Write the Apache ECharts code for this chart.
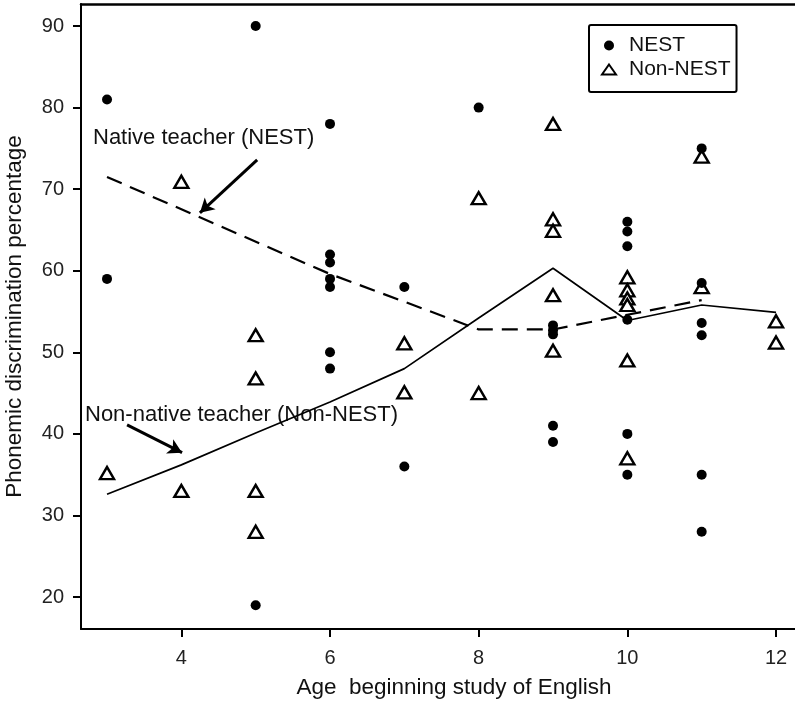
<!DOCTYPE html>
<html>
<head>
<meta charset="utf-8">
<script src="https://cdn.jsdelivr.net/npm/echarts@6/dist/echarts.min.js"></script>
<style>
  html, body { margin: 0; padding: 0; background: #fff; }
  #main { width: 795px; height: 704px; }
</style>
</head>
<body>
<div id="main"></div>
<script>
// NEST (native teacher) points
const nestAge = [3, 3, 5, 5, 6, 6, 6, 6, 6, 6, 6, 7, 7, 8, 9, 9, 9, 9, 9, 10, 10, 10, 10, 10, 10, 11, 11, 11, 11, 11, 11];
const nestScore = [81, 59, 90, 19, 78, 62, 61, 59, 58, 50, 48, 58, 36, 80, 53.3, 52.7, 52.2, 41, 39, 66, 64.8, 63, 54, 40, 35, 75, 58.5, 53.6, 52.1, 35, 28];

// Non-NEST points
const nonAge = [3, 4, 4, 5, 5, 5, 5, 7, 7, 8, 8, 9, 9, 9, 9, 9, 10, 10, 10, 10, 10, 10, 11, 11, 12, 12];
const nonScore = [35.2, 70.9, 33, 52.1, 46.8, 33, 28, 51.1, 45.1, 68.9, 45, 78, 66.3, 64.9, 57, 50.2, 59.2, 57.6, 56.6, 55.8, 49, 37, 74, 58, 53.8, 51.2];

// trend lines
const nestLineAge = [3, 6, 7, 8, 9, 10, 11];
const nestLineMean = [71.5, 59.6, 56.2, 52.8, 52.8, 54.6, 56.4];
const nonLineAge = [3, 4, 5, 6, 7, 8, 9, 10, 11, 12];
const nonLineMean = [32.6, 36.2, 40.1, 43.9, 48, 54.2, 60.3, 53.9, 55.8, 54.9];

const xTicks = [4, 6, 8, 10, 12];
const yTicks = [20, 30, 40, 50, 60, 70, 80, 90];

// annotation arrows (data coords)
const arrowNest = [[5.02, 73.6], [4.25, 67.1]];
const arrowNon = [[3.27, 41.1], [4.01, 37.7]];

const pairs = (xs, ys) => xs.map((x, i) => [x, ys[i]]);

const myChart = echarts.init(document.getElementById('main'));
const font = "'Liberation Sans', Arial, sans-serif";

const option = {
  animation: false,
  backgroundColor: '#fff',
  textStyle: { fontFamily: font },
  grid: {
    left: 81, right: -10, top: 4, bottom: 75,
    outerBoundsMode: 'none',
    containLabel: false,
    show: false
  },
  xAxis: [
    {
      type: 'value',
      min: 2.65, max: 12.39,
      name: 'Age  beginning study of English',
      nameLocation: 'middle',
      nameGap: 47,
      nameTextStyle: { fontSize: 22.5, color: '#111', fontFamily: font, padding: [0, 0, 0, 22] },
      splitLine: { show: false },
      axisLine: { lineStyle: { color: '#000', width: 2 } },
      axisTick: { length: 8, lineStyle: { color: '#000', width: 2 }, customValues: xTicks },
      axisLabel: { fontSize: 20, color: '#222', margin: 19, customValues: xTicks, fontFamily: font }
    },
    {
      // top frame line only
      type: 'value',
      position: 'top',
      min: 2.65, max: 12.39,
      splitLine: { show: false },
      axisLine: { show: true, onZero: false, lineStyle: { color: '#000', width: 2.5 } },
      axisTick: { show: false },
      axisLabel: { show: false }
    }
  ],
  yAxis: {
    type: 'value',
    min: 16.08, max: 92.7,
    name: 'Phonemic discrimination percentage',
    nameLocation: 'middle',
    nameGap: 55,
    nameTextStyle: { fontSize: 22.5, color: '#111', fontFamily: font },
    splitLine: { show: false },
    axisLine: { lineStyle: { color: '#000', width: 2 } },
    axisTick: { length: 8, lineStyle: { color: '#000', width: 2 }, customValues: yTicks },
    axisLabel: { fontSize: 20, color: '#222', margin: 17, customValues: yTicks, fontFamily: font }
  },
  legend: {
    orient: 'vertical',
    left: 589, top: 25,
    borderColor: '#000', borderWidth: 2, borderRadius: 2,
    padding: [10, 6, 12, 12],
    itemGap: 3,
    itemWidth: 14, itemHeight: 10,
    textStyle: { fontSize: 21, color: '#111', padding: [0, 0, 0, 8], fontFamily: font },
    data: [
      { name: 'NEST', icon: 'circle' },
      { name: 'Non-NEST', icon: 'triangle' }
    ]
  },
  graphic: [
    {
      type: 'text', left: 93, top: 127,
      style: { text: 'Native teacher (NEST)', fontSize: 22, fill: '#111', fontFamily: font }
    },
    {
      type: 'text', left: 85, top: 404,
      style: { text: 'Non-native teacher (Non-NEST)', fontSize: 22, fill: '#111', fontFamily: font }
    }
  ],
  series: [
    {
      name: 'nestLine',
      type: 'line',
      data: pairs(nestLineAge, nestLineMean),
      symbol: 'none',
      lineStyle: { color: '#000', width: 2.2, type: [16, 9] },
      z: 1,
      markLine: {
        silent: true,
        symbol: ['none', 'arrow'],
        symbolSize: [12, 14],
        label: { show: false },
        lineStyle: { color: '#000', width: 3, type: 'solid' },
        data: [
          [{ coord: arrowNest[0] }, { coord: arrowNest[1] }],
          [{ coord: arrowNon[0] }, { coord: arrowNon[1] }]
        ]
      }
    },
    {
      name: 'nonLine',
      type: 'line',
      data: pairs(nonLineAge, nonLineMean),
      symbol: 'none',
      lineStyle: { color: '#000', width: 1.7 },
      z: 1
    },
    {
      name: 'Non-NEST',
      type: 'scatter',
      symbol: 'triangle',
      symbolSize: [14, 12],
      data: pairs(nonAge, nonScore),
      itemStyle: { color: '#fff', borderColor: '#000', borderWidth: 2.4, opacity: 1 },
      z: 2
    },
    {
      name: 'NEST',
      type: 'scatter',
      symbol: 'circle',
      symbolSize: 10,
      data: pairs(nestAge, nestScore),
      itemStyle: { color: '#000', opacity: 1 },
      z: 3
    }
  ]
};

myChart.setOption(option);
</script>
</body>
</html>
